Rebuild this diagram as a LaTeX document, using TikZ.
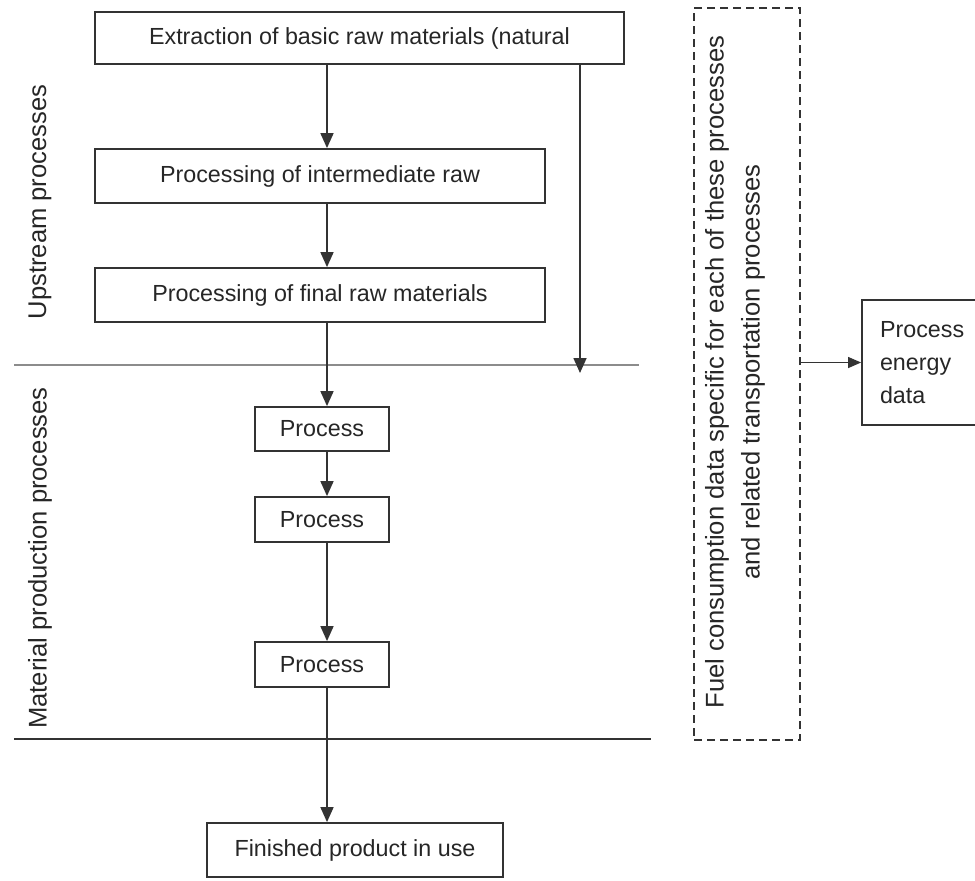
\documentclass[tikz,border=0pt]{standalone}
\usepackage{fontspec}
\setmainfont{Liberation Sans}
\usetikzlibrary{arrows.meta,positioning}

\begin{document}
\begin{tikzpicture}[x=0.5pt,y=-0.5pt,>={Triangle[length=7.5pt,width=6.5pt]},
  every node/.style={font=\fontsize{11.65}{16.5}\selectfont,text=black!85},
  stage/.style={draw=black!80,line width=0.9pt,inner sep=0pt},
  side/.style={rotate=90,font=\fontsize{12.8}{18}\selectfont},
  link/.style={->,draw=black!80,line width=0.8pt}]
  \clip (0,0) rectangle (975,880);
  % boxes of the chain
  \node[stage,minimum width=264.5pt,minimum height=26pt] (ext) at (359.5,38) {Extraction of basic raw materials (natural};
  \node[stage,minimum width=225pt,minimum height=27pt] (inter) at (320,176) {Processing of intermediate raw};
  \node[stage,minimum width=225pt,minimum height=27pt] (final) at (320,295) {Processing of final raw materials};
  \node[stage,minimum width=67pt,minimum height=22pt] (proca) at (322,429) {Process};
  \node[stage,minimum width=67pt,minimum height=22.5pt] (procb) at (322,519.5) {Process};
  \node[stage,minimum width=67pt,minimum height=22.5pt] (procc) at (322,664.5) {Process};
  \node[stage,minimum width=148pt,minimum height=27pt] (use) at (355,850) {Finished product in use};
  % side boxes
  \node[stage,dash pattern=on 4pt off 2.5pt,minimum width=53pt,minimum height=366pt] (fuel) at (747,374) {};
  \node[side,align=center] (fueltxt) at (735,372) {Fuel consumption data specific for each of these processes\\and related transportation processes};
  \node[stage,minimum width=62pt,minimum height=62.5pt,text width=44pt,inner xsep=9pt,align=left] (energy) at (924,362.5) {Process\\energy\\data};
  % stage labels
  \node[side] (upstream) at (40,202) {Upstream processes};
  \node[side] (material) at (40,558) {Material production processes};
  % dividing lines
  \coordinate (ua) at (14,365);
  \coordinate (ub) at (639,365);
  \coordinate (ma) at (14,739);
  \coordinate (mb) at (651,739);
  \draw[black!45,line width=1pt] (ua)--(ub);
  \draw[black!80,line width=0.8pt] (ma)--(mb);
  % connectors
  \coordinate (spine) at (327,0);
  \coordinate (drop) at (580,373);
  \draw[link] (ext.south -| spine)--(inter.north -| spine);
  \draw[link] (inter.south -| spine)--(final.north -| spine);
  \draw[link] (final.south -| spine)--(proca.north -| spine);
  \draw[link] (proca.south -| spine)--(procb.north -| spine);
  \draw[link] (procb.south -| spine)--(procc.north -| spine);
  \draw[link] (procc.south -| spine)--(use.north -| spine);
  \draw[link] (ext.south -| drop)--(drop);
  \draw[->,>={Triangle[length=6.5pt,width=5.5pt]},draw=black!80,line width=0.6pt] (energy.west -| fuel.east)--(energy.west);
\end{tikzpicture}
\end{document}
